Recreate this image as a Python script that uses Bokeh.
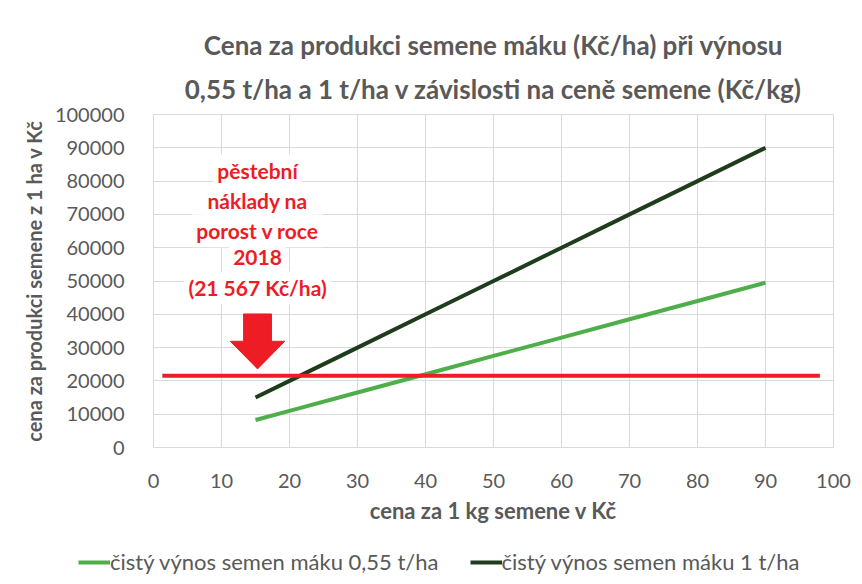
import numpy as np
from bokeh.plotting import figure
from bokeh.layouts import column
from bokeh.models import (Label, Legend, LegendItem, SingleIntervalTicker,
                          NumeralTickFormatter, Range1d, Title)
from bokeh.embed import file_html
from bokeh.resources import INLINE

# ---- data ----
price = [15, 20, 30, 40, 50, 60, 70, 80, 90]
revenue_055 = [8250, 11000, 16500, 22000, 27500, 33000, 38500, 44000, 49500]
revenue_1 = [15000, 20000, 30000, 40000, 50000, 60000, 70000, 80000, 90000]
cost_x = [1.3, 98]
cost_2018 = [21567, 21567]
x_ticks_interval = 10
y_ticks_interval = 10000

title_lines = ["Cena za produkci semene máku (Kč/ha) při výnosu",
               "0,55 t/ha a 1 t/ha v závislosti na ceně semene (Kč/kg)"]
x_label = "cena za 1 kg semene v Kč"
y_label = "cena za produkci semene z 1 ha v Kč"
note_lines = ["pěstební", "náklady na", "porost v roce", "2018", "(21 567 Kč/ha)"]
series_names = ["čistý výnos semen máku 0,55 t/ha", "čistý výnos semen máku 1 t/ha"]

# ---- styles ----
FONT = "Lato"
GRAY = "#595959"
LIGHT = "#4eaf4a"
DARK = "#1f3d1c"
RED = "#ee1c25"
W = 854
H1, H2 = 536, 40

p = figure(width=W, height=H1, output_backend="svg", toolbar_location=None,
           title=None,
           x_range=Range1d(0, 100), y_range=Range1d(0, 100000),
           min_border_left=153, min_border_right=W - 833, min_border_top=114,
           min_border_bottom=H1 - 447)
p.frame_align = False
p.background_fill_color = "white"
p.border_fill_color = "white"
p.outline_line_color = "#d9d9d9"

for ax in (p.xaxis[0], p.yaxis[0]):
    ax.axis_line_color = None
    ax.major_tick_line_color = None
    ax.minor_tick_line_color = None
    ax.major_label_text_font = FONT
    ax.major_label_text_font_size = "20px"
    ax.major_label_text_color = GRAY
p.xaxis[0].ticker = SingleIntervalTicker(interval=x_ticks_interval)
p.yaxis[0].ticker = SingleIntervalTicker(interval=y_ticks_interval)
p.yaxis[0].formatter = NumeralTickFormatter(format="0")
p.xaxis[0].major_label_standoff = 20
p.yaxis[0].major_label_standoff = 23
p.xaxis[0].axis_label = x_label
p.xaxis[0].axis_label_standoff = 6
p.xaxis[0].axis_label_text_font = FONT
p.xaxis[0].axis_label_text_font_style = "bold"
p.xaxis[0].axis_label_text_font_size = "22px"
p.xaxis[0].axis_label_text_color = GRAY
p.xgrid.grid_line_color = "#d9d9d9"
p.ygrid.grid_line_color = "#d9d9d9"
p.xgrid.ticker = SingleIntervalTicker(interval=x_ticks_interval)
p.ygrid.ticker = SingleIntervalTicker(interval=y_ticks_interval)

# ---- series ----
p.line(price, revenue_055, line_color=LIGHT, line_width=4)
p.line(price, revenue_1, line_color=DARK, line_width=4)
p.line(cost_x, cost_2018, line_color=RED, line_width=4)

# ---- arrow ----
ax_c, a_top, a_neck, a_tip, sh, hh = 15.3, 40100, 31900, 23600, 2.05, 4.0
p.patch([ax_c - sh, ax_c + sh, ax_c + sh, ax_c + hh, ax_c, ax_c - hh, ax_c - sh],
        [a_top, a_top, a_neck, a_neck, a_tip, a_neck, a_neck],
        fill_color=RED, line_color=RED)

# ---- note text ----
note_y = [83100, 74100, 65100, 57000, 47900]
for t, yy in zip(note_lines, note_y):
    p.add_layout(Label(x=15.3, y=yy, text=t, text_align="center",
                       text_baseline="middle", text_font=FONT,
                       text_font_style="bold", text_font_size="21px",
                       text_color=RED, background_fill_color="white",
                       padding=4))

# ---- titles ----
p.add_layout(Title(text=title_lines[1], align="center", offset=9, standoff=20,
                   text_font=FONT, text_font_style="bold",
                   text_font_size="26px", text_color=GRAY), "above")
p.add_layout(Title(text=title_lines[0], align="center", offset=9, standoff=0,
                   text_font=FONT, text_font_style="bold",
                   text_font_size="26px", text_color=GRAY), "above")
p.add_layout(Title(text=y_label, align="center", offset=19, standoff=12,
                   text_font=FONT, text_font_style="bold",
                   text_font_size="20px", text_color=GRAY), "left")

# ---- legend strip ----
p2 = figure(width=W, height=H2, output_backend="svg", toolbar_location=None,
            title=None, x_axis_type=None, y_axis_type=None,
            x_range=Range1d(0, W), y_range=Range1d(0, H2), min_border=0)
p2.frame_align = False
p2.outline_line_color = None
p2.grid.visible = False
d1 = p2.line(x=np.array([np.nan]), y=np.array([np.nan]), line_color=LIGHT, line_width=4)
d2 = p2.line(x=np.array([np.nan]), y=np.array([np.nan]), line_color=DARK, line_width=4)
legend = Legend(items=[LegendItem(label=series_names[0], renderers=[d1]),
                       LegendItem(label=series_names[1], renderers=[d2])],
                orientation="horizontal", location=(78, 1),
                label_text_font=FONT, label_text_font_size="22px",
                label_text_color=GRAY, glyph_width=32, glyph_height=24,
                label_standoff=0, spacing=31, padding=0, margin=0,
                border_line_color=None, background_fill_alpha=0)
p2.add_layout(legend)

open("out.html", "w").write(file_html(column(p, p2, spacing=0), INLINE))
